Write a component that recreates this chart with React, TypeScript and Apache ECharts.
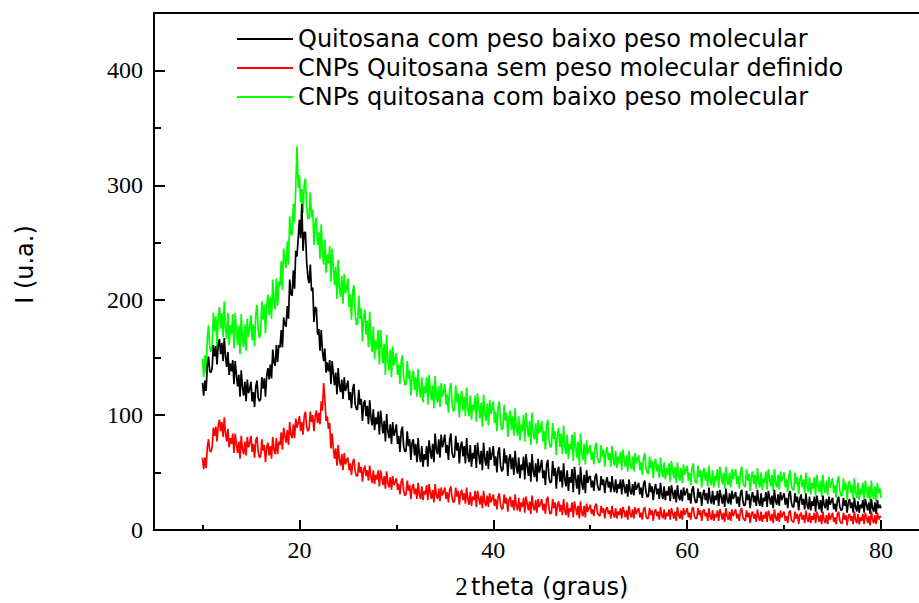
import React, { useEffect, useRef } from "react";
import * as echarts from "echarts";

// 2θ scan: starts at 10°, one reading every 0.125°
const scanStart = 10;
const scanStep = 0.125;

const seriesNames = [
  "Quitosana com peso baixo peso molecular",
  "CNPs Quitosana sem peso molecular definido",
  "CNPs quitosana com baixo peso molecular",
];
const seriesColors = ["#000000", "#ff0000", "#00ff00"];

// one row per degree (10 .. 79), eight readings per row, last value at 80°
const quitosanaBaixoPeso = [
  128, 117, 130, 121, 143, 151, 138, 137,
  141, 161, 151, 160, 144, 161, 166, 153,
  163, 147, 167, 151, 142, 155, 135, 145,
  138, 148, 127, 147, 135, 125, 135, 116,
  139, 124, 117, 129, 112, 131, 119, 123,
  129, 112, 120, 107, 125, 130, 115, 112,
  114, 133, 123, 132, 116, 134, 141, 131,
  144, 132, 157, 146, 143, 161, 146, 161,
  159, 174, 159, 185, 179, 177, 195, 184,
  218, 205, 204, 226, 210, 243, 238, 254,
  270, 254, 284, 243, 259, 259, 233, 220,
  215, 231, 208, 211, 181, 194, 193, 170,
  175, 156, 174, 156, 147, 158, 137, 146,
  138, 148, 127, 147, 136, 126, 137, 118,
  141, 126, 120, 131, 114, 133, 121, 125,
  130, 113, 120, 106, 123, 127, 110, 105,
  105, 122, 109, 114, 95, 110, 113, 99,
  108, 92, 113, 98, 91, 105, 87, 98,
  92, 103, 83, 104, 93, 84, 95, 77,
  101, 86, 80, 92, 75, 94, 82, 86,
  92, 75, 82, 68, 86, 90, 73, 68,
  69, 86, 73, 79, 61, 76, 79, 65,
  75, 59, 80, 65, 59, 73, 55, 66,
  61, 73, 55, 78, 69, 62, 75, 59,
  84, 70, 66, 79, 63, 83, 72, 77,
  83, 67, 74, 61, 79, 84, 67, 63,
  64, 82, 69, 76, 58, 73, 77, 64,
  73, 58, 80, 65, 59, 74, 55, 67,
  62, 74, 54, 76, 66, 57, 69, 52,
  76, 62, 56, 69, 53, 72, 61, 66,
  73, 56, 64, 50, 68, 72, 56, 51,
  53, 71, 58, 65, 47, 62, 66, 53,
  63, 48, 69, 55, 49, 63, 45, 57,
  52, 64, 44, 66, 56, 47, 59, 42,
  66, 51, 46, 58, 42, 62, 50, 55,
  61, 45, 52, 39, 57, 61, 45, 41,
  42, 60, 47, 54, 36, 51, 55, 42,
  52, 37, 58, 44, 38, 52, 34, 46,
  41, 53, 33, 55, 45, 36, 48, 31,
  55, 41, 35, 48, 32, 52, 41, 46,
  47, 37, 43, 34, 46, 49, 39, 35,
  35, 47, 39, 44, 32, 42, 46, 37,
  42, 33, 47, 37, 33, 44, 32, 40,
  36, 44, 31, 44, 38, 32, 40, 29,
  44, 34, 31, 40, 30, 42, 35, 38,
  41, 31, 37, 28, 40, 43, 33, 29,
  29, 41, 33, 38, 26, 36, 40, 31,
  36, 27, 41, 31, 27, 38, 26, 34,
  30, 38, 25, 39, 33, 27, 35, 24,
  39, 29, 26, 35, 25, 37, 30, 33,
  36, 26, 32, 23, 35, 38, 28, 24,
  24, 36, 28, 33, 21, 31, 35, 26,
  32, 23, 37, 27, 23, 34, 22, 30,
  26, 34, 21, 35, 29, 23, 31, 20,
  36, 26, 23, 32, 22, 34, 27, 30,
  33, 23, 29, 20, 32, 35, 25, 21,
  22, 34, 26, 31, 19, 29, 33, 24,
  30, 21, 35, 25, 21, 32, 20, 28,
  25, 33, 20, 34, 28, 22, 30, 19,
  35, 25, 22, 31, 21, 33, 26, 29,
  32, 22, 28, 19, 31, 34, 24, 20,
  20, 32, 24, 29, 17, 27, 31, 22,
  27, 18, 32, 22, 18, 29, 17, 25,
  21, 29, 16, 30, 24, 18, 26, 15,
  30, 22, 19, 27, 17, 29, 22, 25,
  28, 18, 23, 16, 26, 29, 20, 17,
  18, 28, 21, 26, 15, 24, 27, 19,
  24, 15, 28, 20, 16, 25, 15, 22,
  19, 26, 15, 27, 22, 17, 24, 14,
  27, 19, 16, 24, 14, 26, 19, 22,
  19,
];

const cnpsSemPesoDefinido = [
  63, 53, 63, 54, 72, 79, 69, 68,
  72, 89, 82, 90, 77, 91, 96, 86,
  94, 81, 98, 84, 77, 88, 72, 80,
  75, 84, 67, 84, 75, 67, 77, 62,
  82, 70, 66, 77, 65, 81, 72, 76,
  82, 68, 75, 63, 78, 81, 68, 63,
  64, 79, 69, 74, 59, 72, 76, 65,
  73, 62, 81, 70, 66, 80, 66, 77,
  74, 85, 70, 89, 82, 76, 87, 74,
  94, 83, 80, 92, 80, 97, 89, 93,
  99, 86, 94, 83, 99, 103, 90, 86,
  88, 103, 94, 100, 86, 99, 104, 93,
  102, 92, 112, 104, 128, 114, 95, 99,
  88, 93, 71, 84, 71, 62, 71, 56,
  74, 61, 56, 66, 52, 67, 57, 61,
  63, 52, 58, 48, 59, 62, 51, 47,
  47, 59, 50, 55, 42, 52, 56, 47,
  52, 43, 56, 46, 41, 52, 40, 48,
  44, 52, 38, 52, 45, 39, 47, 36,
  51, 41, 37, 46, 35, 47, 39, 42,
  45, 35, 40, 31, 42, 45, 34, 30,
  31, 43, 34, 39, 27, 37, 40, 31,
  36, 27, 41, 31, 27, 38, 26, 34,
  31, 39, 26, 40, 33, 27, 35, 24,
  40, 30, 27, 36, 25, 37, 30, 33,
  37, 27, 33, 24, 35, 38, 28, 24,
  25, 37, 29, 34, 22, 32, 35, 26,
  32, 23, 37, 27, 22, 33, 21, 29,
  26, 34, 20, 34, 28, 22, 30, 19,
  34, 24, 21, 30, 20, 32, 24, 27,
  31, 21, 27, 18, 29, 32, 22, 18,
  19, 31, 23, 28, 16, 26, 29, 20,
  26, 17, 31, 21, 17, 28, 16, 24,
  20, 28, 15, 29, 23, 17, 25, 14,
  30, 20, 17, 26, 15, 27, 20, 23,
  27, 17, 23, 14, 26, 29, 18, 14,
  15, 27, 19, 24, 12, 22, 25, 16,
  22, 13, 27, 17, 13, 24, 11, 19,
  16, 24, 11, 25, 19, 13, 21, 10,
  25, 15, 12, 21, 11, 23, 16, 19,
  22, 14, 18, 12, 21, 23, 15, 13,
  12, 21, 15, 19, 10, 18, 20, 14,
  17, 10, 21, 14, 11, 19, 10, 16,
  13, 19, 10, 20, 16, 11, 17, 9,
  21, 14, 11, 18, 10, 20, 14, 17,
  19, 11, 15, 9, 18, 20, 12, 10,
  10, 19, 13, 17, 8, 16, 18, 12,
  16, 9, 20, 13, 10, 18, 9, 15,
  12, 18, 9, 19, 15, 10, 16, 8,
  20, 13, 10, 17, 9, 19, 13, 16,
  19, 11, 15, 9, 18, 20, 12, 10,
  10, 19, 13, 17, 8, 16, 18, 12,
  15, 8, 19, 12, 9, 17, 8, 14,
  11, 17, 8, 18, 14, 9, 15, 7,
  19, 12, 9, 16, 8, 18, 12, 15,
  18, 10, 14, 8, 17, 19, 11, 9,
  8, 17, 11, 15, 6, 14, 16, 10,
  14, 7, 18, 11, 8, 16, 7, 13,
  10, 16, 7, 17, 13, 8, 14, 6,
  18, 11, 8, 15, 7, 17, 11, 14,
  16, 8, 12, 6, 15, 17, 9, 7,
  7, 16, 10, 14, 5, 13, 15, 9,
  13, 6, 17, 10, 7, 15, 6, 12,
  9, 15, 6, 16, 12, 7, 13, 5,
  16, 9, 6, 13, 5, 15, 9, 12,
  15, 7, 11, 5, 14, 16, 8, 6,
  6, 15, 9, 13, 4, 12, 14, 8,
  12, 5, 16, 9, 6, 14, 5, 11,
  8, 14, 5, 15, 11, 6, 12, 4,
  16, 9, 6, 13, 5, 15, 9, 12,
  11,
];

const cnpsBaixoPeso = [
  149, 133, 152, 136, 167, 178, 159, 155,
  160, 189, 173, 186, 160, 185, 194, 175,
  189, 168, 199, 176, 166, 189, 161, 178,
  171, 188, 158, 189, 174, 161, 178, 153,
  188, 166, 159, 179, 156, 184, 168, 176,
  187, 165, 179, 160, 188, 196, 174, 167,
  171, 199, 183, 196, 171, 195, 205, 187,
  203, 184, 218, 199, 192, 219, 195, 216,
  212, 234, 209, 245, 236, 228, 251, 231,
  273, 257, 257, 284, 268, 300, 334, 298,
  309, 285, 297, 276, 301, 306, 281, 271,
  271, 294, 272, 279, 248, 267, 272, 248,
  259, 236, 266, 242, 231, 253, 224, 240,
  232, 247, 216, 245, 229, 213, 229, 201,
  235, 211, 203, 221, 197, 223, 206, 211,
  219, 194, 205, 183, 208, 213, 189, 179,
  179, 204, 184, 193, 164, 185, 192, 170,
  182, 159, 190, 166, 155, 177, 149, 165,
  157, 174, 144, 174, 159, 145, 162, 135,
  170, 147, 139, 157, 133, 160, 143, 149,
  154, 135, 144, 127, 147, 152, 133, 126,
  127, 147, 132, 139, 117, 134, 139, 122,
  133, 116, 140, 123, 115, 133, 111, 125,
  119, 133, 109, 135, 122, 113, 126, 106,
  134, 116, 111, 125, 107, 128, 116, 120,
  127, 109, 118, 102, 123, 128, 110, 103,
  105, 126, 111, 119, 98, 115, 121, 104,
  116, 99, 124, 106, 99, 117, 96, 109,
  104, 117, 94, 119, 107, 97, 111, 90,
  118, 101, 95, 110, 91, 113, 101, 105,
  112, 93, 103, 86, 107, 112, 94, 87,
  89, 109, 95, 102, 81, 98, 104, 87,
  99, 82, 106, 89, 82, 99, 78, 92,
  86, 100, 77, 102, 90, 81, 95, 74,
  102, 84, 79, 93, 75, 96, 84, 88,
  95, 77, 86, 70, 91, 96, 78, 72,
  73, 93, 79, 86, 65, 83, 89, 72,
  84, 66, 91, 73, 66, 83, 62, 75,
  70, 83, 60, 85, 73, 63, 77, 56,
  84, 66, 61, 75, 57, 78, 66, 70,
  74, 61, 68, 57, 72, 76, 63, 59,
  59, 74, 64, 70, 55, 68, 72, 61,
  67, 55, 73, 61, 56, 69, 54, 64,
  58, 68, 52, 70, 62, 55, 65, 51,
  69, 57, 53, 64, 51, 67, 58, 62,
  65, 52, 59, 48, 63, 67, 54, 50,
  49, 64, 54, 60, 45, 58, 62, 51,
  57, 45, 63, 51, 46, 59, 44, 54,
  48, 58, 42, 60, 52, 45, 55, 41,
  59, 47, 43, 54, 41, 57, 48, 52,
  56, 43, 50, 39, 54, 58, 45, 41,
  41, 56, 46, 52, 37, 50, 54, 43,
  50, 38, 56, 44, 39, 52, 37, 47,
  43, 53, 37, 55, 47, 40, 50, 36,
  55, 43, 39, 50, 37, 53, 44, 48,
  53, 40, 47, 36, 51, 55, 42, 38,
  38, 53, 43, 49, 34, 47, 51, 40,
  48, 36, 54, 42, 37, 50, 35, 45,
  41, 51, 35, 53, 45, 38, 48, 34,
  53, 41, 37, 48, 35, 51, 42, 46,
  50, 37, 44, 33, 48, 52, 39, 35,
  35, 50, 40, 46, 31, 44, 48, 37,
  44, 32, 50, 38, 33, 46, 31, 41,
  36, 46, 30, 48, 40, 33, 43, 29,
  48, 36, 32, 43, 30, 46, 37, 41,
  45, 32, 39, 28, 43, 47, 34, 30,
  30, 45, 35, 41, 26, 39, 43, 32,
  39, 27, 45, 33, 28, 41, 26, 36,
  31, 41, 25, 43, 35, 28, 38, 24,
  43, 31, 27, 38, 25, 41, 32, 36,
  28,
];

const xMajorTicks = [20, 40, 60, 80];
const xMinorTicks = [10, 30, 50, 70];
const yMajorTicks = [0, 100, 200, 300, 400];
const yMinorTicks = [50, 150, 250, 350];

const toPoints = (vals: number[]) =>
  vals.map((v, i) => [scanStart + i * scanStep, v]);

export default function App() {
  const ref = useRef<HTMLDivElement>(null);

  useEffect(() => {
    if (!ref.current) return;
    const chart = echarts.init(ref.current, undefined, { renderer: "svg" });
    const serif = "'Liberation Serif', 'Times New Roman', serif";
    const sans = "'DejaVu Sans', sans-serif";
    const axisColor = "#000";

    const valuesByName: Record<string, number[]> = {
      [seriesNames[0]]: quitosanaBaixoPeso,
      [seriesNames[1]]: cnpsSemPesoDefinido,
      [seriesNames[2]]: cnpsBaixoPeso,
    };
    // draw order: green underneath, then black, then red
    const drawOrder = [2, 0, 1];

    chart.setOption({
      animation: false,
      backgroundColor: "#fff",
      grid: {
        left: 154,
        top: 13,
        width: 775.5,
        bottom: 73,
        show: true,
        borderColor: axisColor,
        borderWidth: 2,
        containLabel: false,
        outerBoundsMode: "none",
      },
      legend: {
        data: seriesNames,
        orient: "vertical",
        left: 232,
        top: 22,
        itemWidth: 56,
        itemHeight: 2,
        itemGap: 5,
        icon: "rect",
        textStyle: {
          fontFamily: sans,
          fontSize: 24,
          color: "#000",
        },
      },
      xAxis: [
        {
          type: "value",
          min: 5,
          max: 85,
          position: "bottom",
          axisLine: { show: true, lineStyle: { color: axisColor, width: 2 } },
          axisTick: {
            show: true,
            inside: true,
            length: 10,
            customValues: xMajorTicks,
            lineStyle: { color: axisColor, width: 2 },
          },
          axisLabel: {
            customValues: xMajorTicks,
            fontFamily: serif,
            fontSize: 24,
            color: "#000",
            margin: 8,
          },
          splitLine: { show: false },
          name: "{a|2} {b|theta (graus)}",
          nameLocation: "middle",
          nameGap: 44,
          nameTextStyle: {
            rich: {
              a: { fontFamily: serif, fontSize: 25, color: "#000" },
              b: { fontFamily: sans, fontSize: 24, color: "#000" },
            },
          },
        },
        {
          type: "value",
          min: 5,
          max: 85,
          position: "bottom",
          axisLine: { show: false },
          axisTick: {
            show: true,
            inside: true,
            length: 5,
            customValues: xMinorTicks,
            lineStyle: { color: axisColor, width: 2 },
          },
          axisLabel: { show: false },
          splitLine: { show: false },
        },
      ],
      yAxis: [
        {
          type: "value",
          min: 0,
          max: 450,
          position: "left",
          axisLine: { show: true, lineStyle: { color: axisColor, width: 2 } },
          axisTick: {
            show: true,
            inside: true,
            length: 11,
            customValues: yMajorTicks,
            lineStyle: { color: axisColor, width: 2 },
          },
          axisLabel: {
            customValues: yMajorTicks,
            fontFamily: serif,
            fontSize: 24,
            color: "#000",
            margin: 11,
          },
          splitLine: { show: false },
          name: "I (u.a.)",
          nameLocation: "middle",
          nameGap: 117,
          nameTextStyle: {
            fontFamily: sans,
            fontSize: 24,
            color: "#000",
            padding: [0, 0, 0, 14],
          },
        },
        {
          type: "value",
          min: 0,
          max: 450,
          position: "left",
          axisLine: { show: false },
          axisTick: {
            show: true,
            inside: true,
            length: 7,
            customValues: yMinorTicks,
            lineStyle: { color: axisColor, width: 2 },
          },
          axisLabel: { show: false },
          splitLine: { show: false },
        },
      ],
      series: drawOrder.map((idx) => ({
        name: seriesNames[idx],
        type: "line",
        xAxisIndex: 0,
        yAxisIndex: 0,
        data: toPoints(valuesByName[seriesNames[idx]]),
        showSymbol: false,
        symbol: "none",
        color: seriesColors[idx],
        lineStyle: { color: seriesColors[idx], width: 1.7 },
        emphasis: { disabled: true },
      })),
    });

    return () => chart.dispose();
  }, []);

  return (
    <div
      ref={ref}
      style={{ position: "fixed", left: 0, top: 0, width: 919, height: 603 }}
    />
  );
}
